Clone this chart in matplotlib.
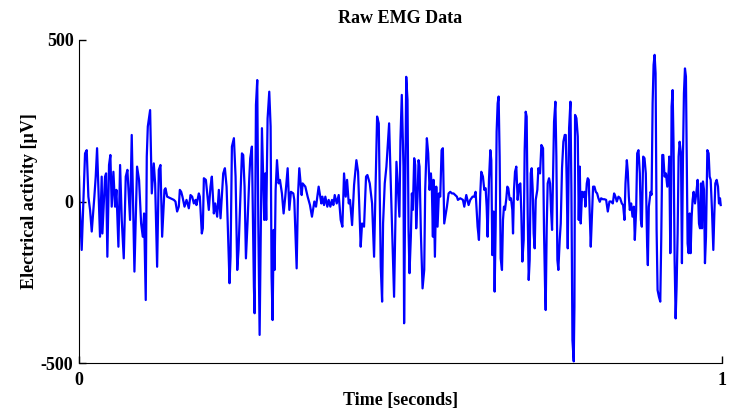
import matplotlib
matplotlib.use("Agg")
import matplotlib.pyplot as plt
import numpy as np

# 采样时刻 (ms) 和对应的肌电幅值 (µV)，从原图逐段读出
t_ms = [
    0, 1.1, 4.2, 9.4, 12.0, 14.6, 17.2, 19.8, 23.9, 26.0, 28.1, 32.7, 35.3, 36.4,
    40.5, 42.1, 44.1, 46.7, 48.8, 50.9, 53.5, 56.1, 58.2, 61.3, 63.9, 66.5, 69.6,
    72.7, 75.3, 79.4, 82.0, 86.2, 90.3, 93.4, 96.6, 99.2, 101.2, 103.8, 105.4,
    107.0, 110.6, 113.2, 116.3, 118.4, 121.5,
    124.1, 126.7, 129.3, 132.9, 134.5, 137.1, 142.3, 147.5, 150.0, 152.6, 155.2,
    156.8, 158.9, 160.9, 164.1, 167.2, 170.8, 173.4, 176.0, 178.6, 181.2, 182.7,
    186.4, 187.9, 191.0, 192.6, 194.2, 197.3, 199.4, 201.9, 204.5, 206.6, 209.7,
    211.8, 214.9, 217.5, 220.1, 224.3, 226.9, 229.5, 230.5, 234.1, 235.7, 237.8,
    240.9, 243.5, 246.1, 248.1,
    253.4, 255.4, 257.5, 259.6, 262.2, 264.8, 266.3, 268.9, 272.0, 273.1, 275.2,
    277.2, 278.8, 280.9, 284.5, 288.1, 289.7, 291.2, 293.3, 295.9, 298.0, 299.5,
    301.1, 302.7, 304.2, 305.8, 307.9, 310.4, 312.5, 315.6, 318.2, 320.8, 324.5,
    327.1, 329.6, 333.3, 334.8, 338.5, 340.5, 342.6, 346.3, 347.8, 352.0, 355.6,
    359.2, 362.3, 366.0, 368.6, 372.7,
    376.9, 378.5, 381.1, 383.1, 386.2, 388.3, 390.9, 393.5, 395.6, 397.7, 400.8,
    403.9, 407.0, 409.6, 412.2, 414.8, 416.9, 419.5, 421.5, 424.7, 427.8, 431.4,
    434.0, 438.1, 440.2, 443.3, 446.4, 448.5, 452.2, 455.8, 458.9, 463.6, 466.2,
    469.3, 471.4, 472.9, 475.5, 478.1, 482.3, 484.9, 490.0, 493.7, 498.3, 499.9,
    502.0, 504.6, 505.6,
    508.9, 510.9, 512.5, 514.0, 516.1, 517.7, 519.2, 521.3, 522.9, 524.4, 526.5,
    528.1, 529.6, 531.7, 534.3, 536.9, 538.4, 541.0, 543.1, 545.2, 547.3, 548.8,
    550.4, 551.4, 553.5, 555.6, 557.6, 559.7, 561.8, 563.9, 565.9, 568.0, 570.1,
    572.2, 574.8, 577.4, 579.9, 582.5, 585.1, 587.7, 589.3, 592.9, 597.1, 599.2,
    602.3, 605.9, 608.5, 612.1, 614.7, 616.8, 619.9, 622.0, 624.1, 625.6, 628.2,
    630.3,
    632.4, 634.0, 635.5, 637.6, 639.7, 641.2, 642.8, 644.9, 646.4, 648.0, 649.5,
    651.1, 652.6, 654.2, 655.8, 657.8, 659.4, 660.9, 662.5, 664.6, 666.1, 667.7,
    669.8, 671.8, 673.9, 675.0, 676.5, 678.1, 680.1, 682.2, 684.3, 686.4, 687.9,
    689.5, 691.6, 693.1, 694.7, 696.2, 697.8, 699.4, 700.9, 702.5, 704.0, 705.6,
    707.1, 708.7, 710.3, 712.8, 714.4, 717.0, 719.1, 721.7, 723.2, 724.8, 725.8,
    727.4, 728.9, 731.0, 732.6, 734.1, 735.7, 737.2, 738.8, 740.9, 742.4, 744.0,
    745.5, 747.6, 749.2, 751.2, 753.3, 755.4, 757.0, 758.5, 760.1,
    762.2, 764.3, 765.8, 767.4, 769.4, 770.5, 771.5, 773.6, 775.7, 777.2, 778.8,
    780.3, 782.4, 784.5, 786.0, 787.6, 789.7, 791.2, 792.8, 794.4, 795.9, 797.5,
    799.5, 801.6, 803.7, 805.8, 807.8, 809.9, 812.0, 814.6, 817.2, 819.8, 822.4,
    825.0, 827.6, 830.2, 832.2, 834.3, 836.4, 839.0, 841.6, 844.2, 846.2, 848.3,
    849.9, 852.0, 853.5, 855.1, 856.6, 858.7, 860.8, 862.9, 864.4, 866.5, 868.1,
    870.1, 872.2, 873.8, 875.3, 877.4, 879.5, 881.5, 883.6, 884.7, 886.2,
    888.9, 890.5, 892.1, 893.6, 895.2, 896.7, 898.3, 899.8, 901.9, 904.0, 905.5,
    907.1, 908.7, 910.7, 912.8, 914.9, 917.0, 918.0, 919.6, 920.6, 921.6, 923.2,
    924.7, 926.3, 927.9, 929.4, 931.0, 932.5, 934.1, 936.2, 937.7, 939.3, 940.8,
    942.4, 943.9, 945.5, 946.5, 948.1, 949.7, 951.2, 952.8, 954.3, 955.9, 958.0,
    960.0, 962.1, 964.2, 965.8, 967.3, 968.9, 970.4, 972.0, 973.5, 975.1, 977.2,
    979.2, 980.8, 982.4, 984.4, 986.5, 988.1, 989.6, 991.7, 993.8, 995.3, 996.9,
    998.0,
]
emg_uv = [
    77, -6, -150, 149, 159, 15, -26, -93, 15, 77, 165, -109, 77, -99,
    77, 87, -171, 113, 144, -16, 92, -16, 36, -140, 113, -57, -176,
    77, 98, -57, 206, -217, 108, 67, -68, -109, -37, -305, 139,
    232, 283, 25, 118, 56, -202,
    98, 113, -109, 36, 41, 15, 10, 5, 0, -31, -16,
    36, 30, 15, -16, 5, -21, 20, 15, -6, 5, -11,
    25, 15, -99, -83, 72, 67, 25, -26, 46, 77, -37,
    -6, -47, 36, -52, 87, 103, 46, -16, -253, -171, 170,
    196, 77, -212, -150,
    149, 144, 46, -176, -62, 72, 134, 170, -264, -346, 299,
    376, -57, -413, 227, -57, 87, -57, 257, 340, 232, -233,
    -367, -88, -212, 36, 128, 56, 67, 25, -37, 15, 103,
    -26, 30, 25, 5, -207, 15, 103, 20, 56, 46, 15,
    -11, -47, 0, -16, 46,
    -6, 15, -11, 15, -16, 5, -16, 5, -11, 20, -6,
    20, -57, -78, 87, 15, 67, -6, 5, -73, 51, 128,
    92, -140, -68, -78, 77, 82, 56, -6, -171, 263, 242,
    -202, -310, -68, 56, 108, 242, 56, -295, 123, -47, 190,
    330, 108, -377,
    386, 314, -88, -222, -109, 25, -26, 134, 113, -83, 15,
    128, 108, -99, -269, -212, 36, 196, 149, 36, 87, 36,
    -109, 67, -171, 46, -78, 25, 15, 159, 165, -68, -42,
    -16, 25, 30, 25, 25, 20, 15, 5, 10, 5, -16,
    20, -11, 5, 15, 15, 30, -78, -119, 25, 92, 77,
    36,
    41, -16, -109, 67, 159, 128, -166, -31, -279, -78, 216,
    304, 325, 139, -176, -212, -57, -16, -26, 10, 46, 41,
    5, 10, -26, -99, 36, 92, 108, 5, 51, 56, -37,
    -186, -119, 159, 278, 263, -37, -243, -181, 87, 103, 36,
    -99, -145, 5, 36, 103, 87, 175, 165, -93, -264, -336,
    -78, 56, 72, 56, -26, -88, 67, 247, 309, 139, -181,
    -212, -119, -68, 103, 185, 206, 206, 56, -145,
    227, 309, 36, -429, -495, -326, 268, 258, 201, -57, 108,
    -68, 30, 15, 30, -16, 56, 72, 67, -47, -140, -57,
    46, 46, 30, 25, 10, -1, 10, 7, 7, 5, -31,
    0, 0, -6, 25, 15, 0, 15, 10, -6, -11, -57,
    56, 128, 92, 15, -26, -6, -47, -16, -119, -26, 149,
    159, 87, -57, -78, 139, 134, 87, -140, -197, -16,
    30, 21, 304, 423, 454, 397, -88, -274, -295, -310, -119,
    144, 144, 77, 87, 46, 92, 139, -160, -37, 294, 345,
    170, -181, -362, -264, -99, 139, 185, 149, -191, 139, 335,
    412, 387, 67, -130, -160, -37, -160, -47, 5, 30, -6,
    25, 67, -68, -83, 56, -83, 62, 36, -191, -109, 159,
    149, 77, 67, -26, -150, -37, 56, 67, 46, -6, 10,
    -11,
]
y_ticks = [-500, 0, 500]
x_ticks = [0, 1]

plt.rcParams["font.family"] = ["Liberation Serif", "DejaVu Serif"]
plt.rcParams["font.weight"] = "bold"
plt.rcParams["axes.unicode_minus"] = False

fig = plt.figure(figsize=(7.32, 4.18), dpi=100)
ax = fig.add_axes([79 / 732, 1 - 363 / 418, 643 / 732, 323 / 418])

t = np.array(t_ms) / 1000.0
ax.plot(t, emg_uv, color="#0000ff", lw=1.6)

ax.set_xlim(0, 1)
ax.set_ylim(-500, 500)
ax.set_xticks(x_ticks)
ax.set_yticks(y_ticks)
ax.tick_params(direction="in", length=5, width=1, labelsize=13)
ax.tick_params(axis="x", pad=6.5)
ax.tick_params(axis="y", pad=4)
for lab in ax.get_xticklabels() + ax.get_yticklabels():
    lab.set_fontweight("bold")
ax.spines["top"].set_visible(False)
ax.spines["right"].set_visible(False)

ax.set_title("Raw EMG Data", fontsize=13, fontweight="bold", pad=12)
ax.set_xlabel("Time [seconds]", fontsize=13, fontweight="bold", labelpad=2)
ax.set_ylabel("Electrical activity [µV]", fontsize=13, fontweight="bold", labelpad=2)

fig.savefig("out.png", dpi=100)
